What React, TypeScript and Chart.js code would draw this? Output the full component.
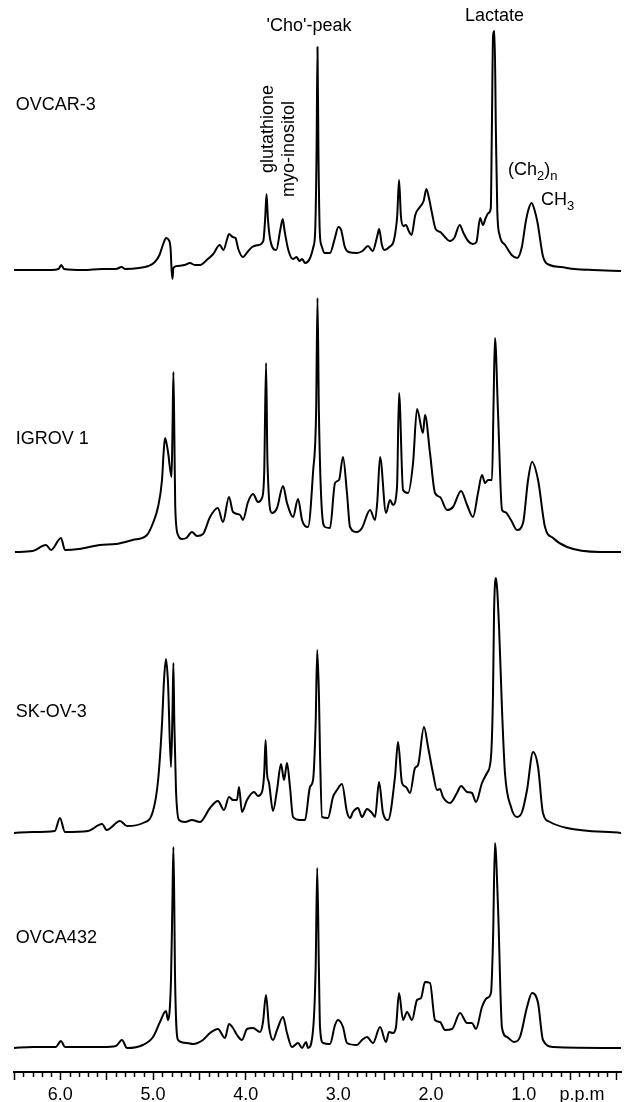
import { useEffect, useRef } from 'react';
import { Chart, registerables } from 'chart.js';

Chart.register(...registerables);

// ---- x axis (chemical shift, p.p.m) ----
const majorTicks = [6.5, 6.0, 5.5, 5.0, 4.5, 4.0, 3.5, 3.0, 2.5, 2.0, 1.5, 1.0, 0.5, 0.37, 0.0];
const majorLabels = ['', '6.0', '', '5.0', '', '4.0', '', '3.0', '', '2.0', '', '1.0', '', 'p.p.m', ''];
const unitTick = 0.37;

// ---- sample names ----
const sampleNames = ['OVCAR-3', 'IGROV 1', 'SK-OV-3', 'OVCA432'];
const nameLevels = [166, 113, 121, 110];
const namePpm = 6.48;

// ---- spectra (ppm, intensity) ----
const ovcar3Ppm = [6.5, 6.3, 6.1, 6.02, 5.99, 5.96, 5.75, 5.55, 5.4, 5.34, 5.3, 5.15, 5.05, 4.98, 4.93, 4.89, 4.86, 4.83, 4.81, 4.8, 4.79, 4.78, 4.74, 4.66, 4.6, 4.55, 4.49, 4.42, 4.35, 4.28, 4.24, 4.2, 4.18, 4.14, 4.11, 4.08, 4.03, 3.98, 3.93, 3.86, 3.81, 3.79, 3.775, 3.76, 3.73, 3.67, 3.625, 3.6, 3.58, 3.54, 3.49, 3.45, 3.42, 3.39, 3.36, 3.31, 3.27, 3.25, 3.235, 3.225, 3.215, 3.2, 3.18, 3.15, 3.09, 3.04, 3.0, 2.97, 2.93, 2.89, 2.8, 2.74, 2.68, 2.63, 2.58, 2.56, 2.53, 2.5, 2.45, 2.4, 2.365, 2.345, 2.325, 2.3, 2.27, 2.24, 2.21, 2.17, 2.12, 2.08, 2.05, 2.02, 1.99, 1.95, 1.9, 1.85, 1.8, 1.75, 1.69, 1.65, 1.6, 1.55, 1.51, 1.47, 1.44, 1.41, 1.38, 1.355, 1.345, 1.33, 1.315, 1.3, 1.285, 1.26, 1.2, 1.13, 1.07, 1.02, 0.98, 0.95, 0.915, 0.88, 0.85, 0.79, 0.72, 0.6, 0.45, 0.25, -0.05];
const ovcar3Int = [1, 1, 1, 2, 6, 2, 1, 2, 2, 4, 2, 3, 5, 9, 16, 27, 33, 31, 22, 2, -8, 3, 5, 6, 8, 6, 6, 11, 17, 26, 21, 32, 37, 34, 33, 22, 14, 19, 24, 26, 30, 52, 77, 52, 29, 21, 42, 52, 40, 21, 12, 14, 10, 12, 8, 12, 24, 40, 120, 224, 120, 38, 25, 18, 18, 32, 44, 41, 24, 19, 18, 20, 25, 20, 35, 42, 26, 21, 24, 31, 55, 91, 55, 45, 46, 40, 36, 56, 64, 70, 82, 72, 58, 42, 39, 34, 30, 33, 46, 38, 30, 27, 29, 53, 46, 53, 58, 63, 130, 236, 240, 140, 60, 36, 26, 16, 13, 24, 48, 61, 68, 60, 48, 14, 6, 4, 2, 1, 0];

const igrov1Ppm = [6.49, 6.3, 6.155, 6.1, 5.993, 5.95, 5.8, 5.57, 5.4, 5.22, 5.065, 5.0, 4.946, 4.903, 4.885, 4.87, 4.838, 4.8, 4.79, 4.78, 4.77, 4.76, 4.73, 4.69, 4.64, 4.58, 4.525, 4.46, 4.385, 4.3, 4.245, 4.18, 4.137, 4.06, 4.03, 3.975, 3.92, 3.867, 3.824, 3.8, 3.78, 3.765, 3.716, 3.662, 3.597, 3.554, 3.489, 3.435, 3.392, 3.36, 3.327, 3.273, 3.24, 3.225, 3.21, 3.176, 3.144, 3.09, 3.036, 2.993, 2.95, 2.907, 2.874, 2.8, 2.745, 2.658, 2.604, 2.58, 2.55, 2.486, 2.443, 2.41, 2.367, 2.345, 2.302, 2.248, 2.194, 2.151, 2.087, 2.065, 2.011, 1.957, 1.903, 1.827, 1.763, 1.676, 1.611, 1.547, 1.493, 1.45, 1.417, 1.385, 1.342, 1.325, 1.31, 1.277, 1.234, 1.202, 1.137, 1.072, 1.007, 0.953, 0.91, 0.845, 0.77, 0.683, 0.532, 0.176, -0.05];
const igrov1Int = [0, 1, 7, 2, 14, 2, 3, 7, 8, 12, 17, 29, 45, 72, 100, 114, 100, 75, 120, 180, 120, 45, 17, 13, 14, 20, 16, 18, 35, 44, 30, 55, 40, 37, 32, 50, 58, 50, 54, 80, 189, 90, 39, 44, 66, 49, 35, 53, 32, 26, 25, 80, 140, 254, 140, 39, 25, 24, 69, 72, 95, 59, 25, 20, 24, 42, 32, 50, 95, 39, 52, 47, 65, 159, 62, 59, 89, 143, 119, 137, 99, 59, 55, 42, 45, 61, 47, 35, 59, 77, 69, 72, 72, 150, 214, 139, 42, 40, 32, 22, 29, 72, 90, 72, 25, 14, 5, 0, 0];

const skov3Ppm = [6.51, 6.3, 6.06, 6.004, 5.95, 5.7, 5.55, 5.5, 5.356, 5.28, 5.108, 5.0, 4.946, 4.903, 4.88, 4.86, 4.838, 4.806, 4.79, 4.78, 4.77, 4.752, 4.72, 4.655, 4.58, 4.493, 4.385, 4.3, 4.234, 4.18, 4.137, 4.094, 4.072, 4.04, 3.986, 3.91, 3.867, 3.824, 3.8, 3.785, 3.77, 3.748, 3.705, 3.662, 3.619, 3.586, 3.554, 3.522, 3.489, 3.414, 3.36, 3.306, 3.273, 3.245, 3.228, 3.21, 3.198, 3.176, 3.112, 3.058, 3.015, 2.961, 2.907, 2.874, 2.842, 2.788, 2.745, 2.691, 2.637, 2.604, 2.561, 2.518, 2.464, 2.389, 2.356, 2.313, 2.27, 2.227, 2.173, 2.14, 2.076, 2.032, 1.979, 1.935, 1.903, 1.871, 1.795, 1.72, 1.676, 1.611, 1.558, 1.515, 1.45, 1.396, 1.353, 1.331, 1.32, 1.3, 1.266, 1.234, 1.202, 1.137, 1.072, 1.018, 0.964, 0.899, 0.845, 0.792, 0.716, 0.532, -0.05];
const skov3Int = [0, 1, 2, 15, 1, 2, 9, 3, 12, 7, 10, 22, 52, 109, 155, 174, 150, 66, 120, 170, 110, 43, 13, 11, 13, 11, 25, 32, 23, 36, 33, 33, 46, 21, 33, 41, 37, 41, 60, 93, 60, 50, 22, 43, 69, 53, 70, 46, 16, 13, 13, 46, 53, 110, 183, 140, 80, 16, 15, 36, 43, 49, 21, 15, 21, 25, 16, 24, 20, 16, 51, 20, 13, 56, 91, 50, 46, 40, 65, 68, 106, 86, 60, 43, 44, 36, 30, 40, 47, 41, 40, 31, 50, 60, 76, 140, 220, 255, 206, 123, 60, 26, 16, 21, 43, 81, 66, 20, 11, 5, 0];

const ovca432Ppm = [6.51, 6.3, 6.05, 5.993, 5.95, 5.7, 5.54, 5.4, 5.335, 5.28, 5.108, 5.0, 4.925, 4.86, 4.838, 4.806, 4.79, 4.78, 4.77, 4.763, 4.73, 4.633, 4.568, 4.461, 4.385, 4.3, 4.223, 4.18, 4.137, 4.094, 4.04, 3.986, 3.921, 3.845, 3.813, 3.781, 3.748, 3.705, 3.662, 3.597, 3.554, 3.5, 3.435, 3.392, 3.349, 3.327, 3.273, 3.245, 3.228, 3.21, 3.198, 3.165, 3.09, 3.036, 3.004, 2.95, 2.907, 2.8, 2.745, 2.691, 2.626, 2.55, 2.486, 2.453, 2.41, 2.378, 2.345, 2.302, 2.259, 2.205, 2.151, 2.108, 2.065, 2.011, 1.957, 1.903, 1.849, 1.773, 1.687, 1.611, 1.558, 1.515, 1.45, 1.396, 1.353, 1.331, 1.31, 1.277, 1.234, 1.18, 1.105, 1.04, 0.964, 0.91, 0.845, 0.792, 0.683, -0.05];
const ovca432Int = [0, 1, 1, 7, 1, 1, 1, 2, 8, 0, 3, 11, 26, 37, 28, 68, 150, 201, 140, 75, 8, 5, 4, 8, 15, 19, 10, 24, 20, 13, 8, 19, 20, 16, 26, 53, 21, 8, 18, 31, 15, 1, 5, 0, 6, 0, 18, 80, 180, 80, 21, 5, 4, 23, 28, 21, 5, 3, 8, 11, 5, 21, 6, 16, 15, 21, 55, 28, 36, 28, 48, 50, 66, 65, 28, 26, 18, 19, 35, 25, 25, 19, 41, 50, 55, 108, 205, 141, 20, 11, 6, 11, 41, 55, 45, 8, 1, 0];

// ---- peak annotations (anchored on the OVCAR-3 trace scale) ----
const noteTexts = ["'Cho'-peak", 'Lactate', 'glutathione', 'myo-inositol'];
const notePpm = [3.316, 1.315, 3.755, 3.532];
const noteLevels = [245, 255, 142, 122];
const noteRotated = [false, false, true, true];

const subNotes = [
  { ppm: 1.169, level: 101, parts: [['(Ch', false], ['2', true], [')', false], ['n', true]] },
  { ppm: 0.813, level: 71, parts: [['CH', false], ['3', true]] },
];

const FONT = '"Liberation Sans", Arial, Helvetica, sans-serif';

function pts(p: number[], v: number[]) {
  return p.map((x, i) => ({ x, y: v[i] }));
}

const overlayPlugin = {
  id: 'overlay',
  afterDraw(chart: any) {
    const ctx = chart.ctx as CanvasRenderingContext2D;
    const xs = chart.scales.x;
    ctx.save();
    // minor ticks every 0.1 ppm
    ctx.strokeStyle = '#000';
    ctx.lineWidth = 1.5;
    for (let i = 0; i <= 65; i++) {
      if (i % 5 === 0) continue;
      const px = Math.round(xs.getPixelForValue(i / 10)) + 0.5;
      ctx.beginPath();
      ctx.moveTo(px, xs.top);
      ctx.lineTo(px, xs.top + 5);
      ctx.stroke();
    }
    ctx.fillStyle = '#000';
    // sample names
    ctx.font = `18px ${FONT}`;
    ctx.textAlign = 'left';
    ctx.textBaseline = 'middle';
    sampleNames.forEach((n, i) => {
      const ys = chart.scales['y' + i];
      ctx.fillText(n, xs.getPixelForValue(namePpm), ys.getPixelForValue(nameLevels[i]));
    });
    // peak annotations
    const y0 = chart.scales.y0;
    noteTexts.forEach((t, i) => {
      const px = xs.getPixelForValue(notePpm[i]);
      const py = y0.getPixelForValue(noteLevels[i]);
      ctx.save();
      ctx.translate(px, py);
      if (noteRotated[i]) ctx.rotate(-Math.PI / 2);
      ctx.textAlign = 'center';
      ctx.textBaseline = 'middle';
      ctx.fillText(t, 0, 0);
      ctx.restore();
    });
    subNotes.forEach((s) => {
      let px = xs.getPixelForValue(s.ppm);
      const py = y0.getPixelForValue(s.level);
      ctx.textAlign = 'left';
      ctx.textBaseline = 'middle';
      s.parts.forEach(([txt, sub]) => {
        ctx.font = sub ? `13px ${FONT}` : `18px ${FONT}`;
        ctx.fillText(txt as string, px, sub ? py + 6 : py);
        px += ctx.measureText(txt as string).width;
      });
    });
    ctx.restore();
  },
};

const traceStyle = {
  borderColor: '#000',
  borderWidth: 2,
  pointRadius: 0,
  cubicInterpolationMode: 'monotone' as const,
  borderJoinStyle: 'round' as const,
  fill: false,
};

function yAxis(weight: number, min: number, max: number) {
  return {
    type: 'linear' as const,
    position: 'left' as const,
    stack: 'spectra',
    stackWeight: weight,
    min,
    max,
    grid: { display: false },
    ticks: { display: false },
    border: { display: false },
    afterFit: (s: any) => { s.width = 0; },
  };
}

export default function App() {
  const ref = useRef<HTMLCanvasElement>(null);
  useEffect(() => {
    if (!ref.current) return;
    const chart = new Chart(ref.current, {
      type: 'line',
      data: {
        datasets: [
          { ...traceStyle, label: sampleNames[0], data: pts(ovcar3Ppm, ovcar3Int), yAxisID: 'y0' },
          { ...traceStyle, label: sampleNames[1], data: pts(igrov1Ppm, igrov1Int), yAxisID: 'y1' },
          { ...traceStyle, label: sampleNames[2], data: pts(skov3Ppm, skov3Int), yAxisID: 'y2' },
          { ...traceStyle, label: sampleNames[3], data: pts(ovca432Ppm, ovca432Int), yAxisID: 'y3' },
        ],
      },
      options: {
        animation: false,
        responsive: false,
        events: [],
        layout: { padding: { left: 14, right: 9, top: 0, bottom: 0 } },
        plugins: { legend: { display: false }, tooltip: { enabled: false }, title: { display: false } },
        scales: {
          x: {
            type: 'linear',
            position: 'bottom',
            reverse: true,
            min: -0.05,
            max: 6.5,
            afterBuildTicks: (s: any) => { s.ticks = majorTicks.map((v) => ({ value: v })); },
            afterFit: (s: any) => { s.height = 30; },
            ticks: {
              autoSkip: false,
              maxRotation: 0,
              minRotation: 0,
              padding: 4,
              color: '#000',
              font: { family: FONT, size: 18 },
              callback: (value: any) => {
                const i = majorTicks.findIndex((t) => Math.abs(t - Number(value)) < 1e-6);
                return i >= 0 ? majorLabels[i] : '';
              },
            },
            grid: {
              display: true,
              drawOnChartArea: false,
              drawTicks: true,
              tickLength: 8,
              tickWidth: 1.5,
              tickColor: (c: any) => (c.tick && Math.abs(c.tick.value - unitTick) < 1e-6 ? 'rgba(0,0,0,0)' : '#000'),
            },
            border: { display: true, color: '#000', width: 2 },
          },
          // stacked left axes are laid out from the last one defined (top) to the first (bottom)
          y3: yAxis(232, -24, 208),
          y2: yAxis(278, -7, 271),
          y1: yAxis(281, -10, 271),
          y0: yAxis(281, -10, 271),
        },
      } as any,
      plugins: [overlayPlugin],
    });
    return () => chart.destroy();
  }, []);
  return (
    <div style={{ position: 'fixed', left: 0, top: 0, width: 630, height: 1102, background: '#fff' }}>
      <canvas ref={ref} width={630} height={1102} style={{ display: 'block', width: 630, height: 1102 }} />
    </div>
  );
}
